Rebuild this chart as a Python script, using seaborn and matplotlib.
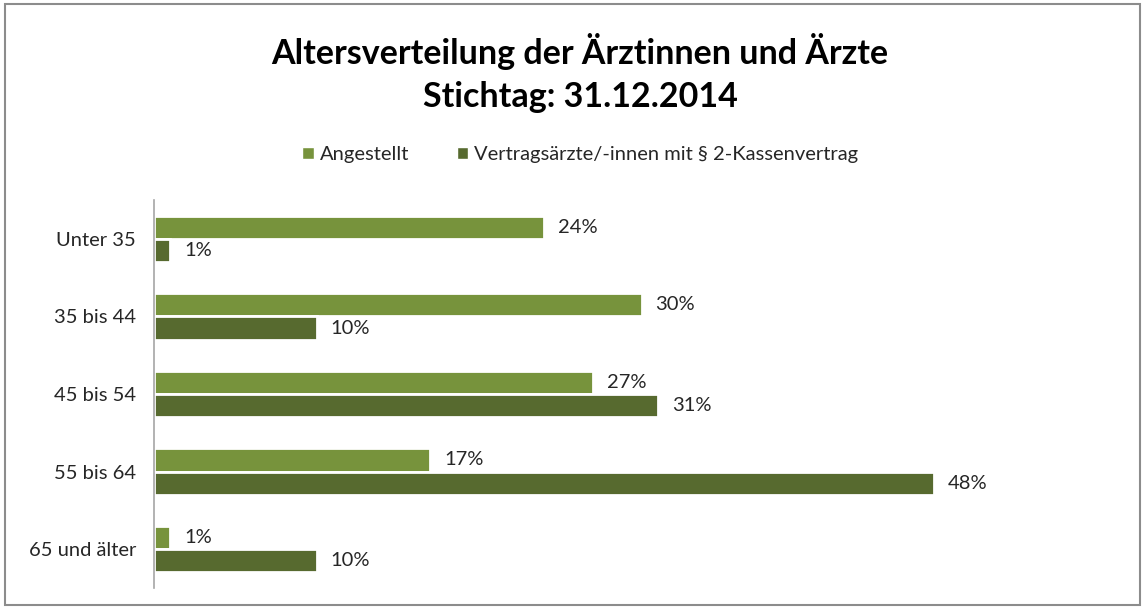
import matplotlib
matplotlib.use("Agg")
import matplotlib.pyplot as plt
from matplotlib.patches import Rectangle
import seaborn as sns
import pandas as pd

# Age groups and share of doctors per group (in percent)
age_groups = ["Unter 35", "35 bis 44", "45 bis 54", "55 bis 64", "65 und älter"]
series_names = ["Angestellt", "Vertragsärzte/-innen mit § 2-Kassenvertrag"]
angestellt = [24, 30, 27, 17, 1]
vertragsaerzte = [1, 10, 31, 48, 10]
colors = ["#77933C", "#576A2F"]

sns.set_theme(style="white")
plt.rcParams["font.family"] = ["Lato", "DejaVu Sans"]

df = pd.DataFrame({
    "Altersgruppe": age_groups * 2,
    "Anteil": angestellt + vertragsaerzte,
    "Gruppe": [series_names[0]] * len(age_groups) + [series_names[1]] * len(age_groups),
})

fig = plt.figure(figsize=(11.45, 6.08), dpi=100)
ax = fig.add_axes([154 / 1145, 20 / 608, 845 / 1145, 388 / 608])

sns.barplot(
    data=df, x="Anteil", y="Altersgruppe", hue="Gruppe", order=age_groups,
    hue_order=series_names, palette=colors, orient="h", width=0.6,
    edgecolor="white", linewidth=2, saturation=1, legend=False, ax=ax,
)

for container in ax.containers:
    ax.bar_label(container, fmt="%d%%", padding=10, fontsize=14.5, color="#262626")

ax.set_xlim(0, 52)
ax.set_ylim(4.5, -0.5)
ax.set_xlabel("")
ax.set_ylabel("")
ax.set_xticks([])
ax.tick_params(axis="y", length=0, pad=13, labelsize=14.5, labelcolor="#262626")
for side in ["top", "right", "bottom"]:
    ax.spines[side].set_visible(False)
ax.spines["left"].set_color("#A6A6A6")
ax.spines["left"].set_linewidth(1.2)

# Title
fig.text(0.5066, 1 - 52 / 608, "Altersverteilung der Ärztinnen und Ärzte",
         ha="center", va="center", fontsize=24.5, fontweight="bold", color="black")
fig.text(0.5066, 1 - 97 / 608, "Stichtag: 31.12.2014",
         ha="center", va="center", fontsize=24.5, fontweight="bold", color="black")

# Legend
handles = [Rectangle((0, 0), 1, 1, facecolor=c) for c in colors]
fig.legend(handles, series_names, loc="center", bbox_to_anchor=(0.507, 1 - 155 / 608),
           ncol=2, frameon=False, fontsize=14.5, handlelength=0.55, handleheight=0.55,
           handletextpad=0.3, columnspacing=2.4, labelcolor="#262626")

# Chart frame
fig.patches.append(Rectangle((5 / 1145, 3 / 608), 1135 / 1145, 601 / 608,
                             transform=fig.transFigure, fill=False,
                             edgecolor="#8C8C8C", linewidth=1.5))

fig.savefig("out.png", dpi=100)
